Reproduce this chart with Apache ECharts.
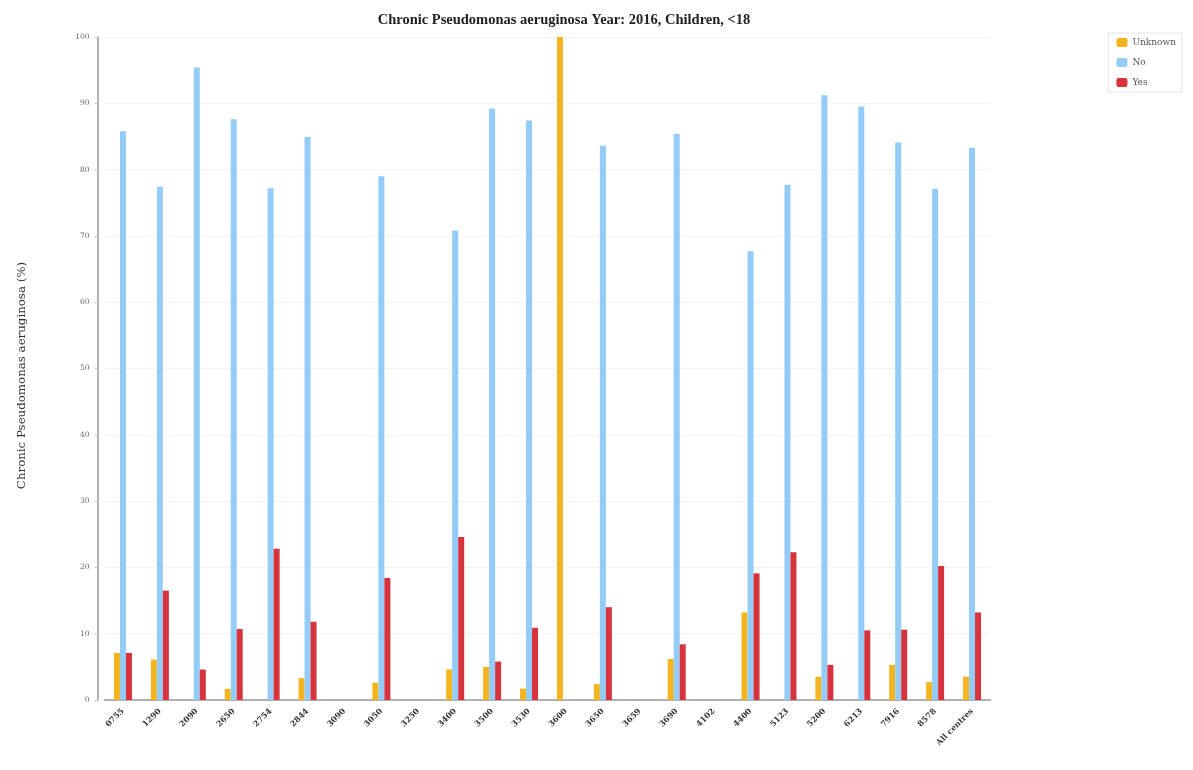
<!DOCTYPE html>
<html>
<head>
<meta charset="utf-8">
<script src="https://cdn.jsdelivr.net/npm/echarts@6/dist/echarts.min.js"></script>
<style>
html,body{margin:0;padding:0;background:#fff;}
#chart{width:1193px;height:770px;}
</style>
</head>
<body>
<div id="chart"></div>
<script>
var categories = ['0755','1290','2090','2650','2754','2844','3090','3050','3250','3400','3500','3530','3600','3650','3659','3690','4102','4400','5123','5200','6213','7916','8578','All centres'];
var unknownValues = [7.1, 6.1, 0, 1.7, 0, 3.3, 0, 2.6, 0, 4.6, 5.0, 1.7, 100, 2.4, 0, 6.2, 0, 13.2, 0, 3.5, 0, 5.3, 2.7, 3.5];
var noValues = [85.8, 77.4, 95.4, 87.6, 77.2, 84.9, 0, 79.0, 0, 70.8, 89.2, 87.4, 0, 83.6, 0, 85.4, 0, 67.7, 77.7, 91.2, 89.5, 84.1, 77.1, 83.3];
var yesValues = [7.1, 16.5, 4.6, 10.7, 22.8, 11.8, 0, 18.4, 0, 24.6, 5.8, 10.9, 0, 14.0, 0, 8.4, 0, 19.1, 22.3, 5.3, 10.5, 10.6, 20.2, 13.2];
var yTicks = [0,10,20,30,40,50,60,70,80,90,100];

var serif = '"DejaVu Serif","Liberation Serif",serif';
var titleSerif = '"Liberation Serif","DejaVu Serif",serif';
var chart = echarts.init(document.getElementById('chart'));
chart.setOption({
  animation: false,
  backgroundColor: '#fff',
  title: {
    text: 'Chronic Pseudomonas aeruginosa Year: 2016, Children, <18',
    left: 559, top: 8, textAlign: 'center',
    textStyle: {fontFamily: titleSerif, fontSize: 14.5, fontWeight: 'bold', color: '#222'}
  },
  legend: {
    orient: 'vertical',
    right: 11, top: 33,
    itemWidth: 11, itemHeight: 9, itemGap: 11,
    borderColor: '#e6e6e6', borderWidth: 1, padding: [5, 6, 5, 8],
    icon: 'roundRect',
    textStyle: {fontFamily: serif, fontSize: 9, color: '#555'},
    data: ['Unknown','No','Yes']
  },
  grid: {left: 104.5, right: 202.5, top: 37, bottom: 70},
  xAxis: {
    type: 'category',
    data: categories,
    axisLine: {lineStyle: {color: '#999', width: 1.5}},
    axisTick: {show: false},
    axisLabel: {rotate: 45, interval: 0, fontFamily: serif, fontSize: 8, fontWeight: 'bold', color: '#333', margin: 10}
  },
  yAxis: {
    type: 'value', min: yTicks[0], max: yTicks[yTicks.length-1], interval: 10,
    offset: 7,
    name: 'Chronic Pseudomonas aeruginosa (%)',
    nameLocation: 'middle', nameGap: 70, nameRotate: 90,
    nameTextStyle: {fontFamily: serif, fontSize: 11.8, color: '#333', padding: [0, 14, 0, 0]},
    axisLine: {show: true, lineStyle: {color: '#999', width: 1.5}},
    axisTick: {show: true, length: 3, lineStyle: {color: '#ccc'}},
    axisLabel: {fontFamily: serif, fontSize: 7.5, color: '#666', margin: 8},
    splitLine: {show: true, lineStyle: {color: '#f3f3f3'}}
  },
  series: [
    {name: 'Unknown', type: 'bar', data: unknownValues, barWidth: 6, barGap: '0%', itemStyle: {color: '#f4b41f'}},
    {name: 'No', type: 'bar', data: noValues, barWidth: 6, barGap: '0%', itemStyle: {color: '#93cdf7'}},
    {name: 'Yes', type: 'bar', data: yesValues, barWidth: 6, barGap: '0%', itemStyle: {color: '#d7333c'}}
  ]
});
</script>
</body>
</html>
